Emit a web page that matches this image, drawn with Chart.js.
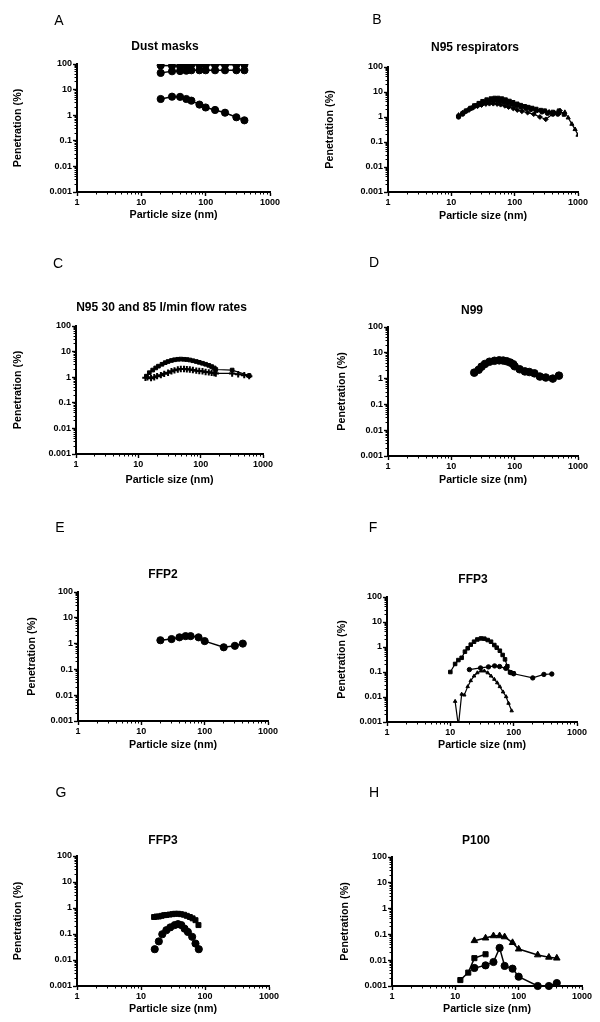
<!DOCTYPE html>
<html><head><meta charset="utf-8">
<script src="https://cdn.jsdelivr.net/npm/chart.js@4.4.1/dist/chart.umd.min.js"></script>
<style>
html,body{margin:0;padding:0;background:#fff;}
body{width:600px;height:1022px;position:relative;overflow:hidden;font-family:"Liberation Sans",Arial,sans-serif;}
canvas{position:absolute;}
.lbl{position:absolute;font-size:14px;color:#000;transform:translate(-50%,-50%);line-height:1;white-space:nowrap;}
.ttl{position:absolute;font-size:12px;font-weight:bold;color:#000;transform:translate(-50%,-50%);line-height:1;white-space:nowrap;}
</style></head><body>
<script>
// ---------- text ----------
const xTickLabels = ['1','10','100','1000'];
const yTickLabels = ['0.001','0.01','0.1','1','10','100'];
const panelLetters = ['A','B','C','D','E','F','G','H'];
const panelTitles = ['Dust masks','N95 respirators','N95 30 and 85 l/min flow rates','N99','FFP2','FFP3','FFP3','P100'];
const xAxisTitle = 'Particle size (nm)';
const yAxisTitle = 'Penetration (%)';

// ---------- data (particle size nm, penetration %) ----------
// A Dust masks
const aSize = [20,30,40,50,60,80,100,140,200,300,400];
const aMask1 = [88,85,83,90,95,92,92,93,93,93,96];
const aMask2 = [45,52,53,55,57,57,57,57,57,57,57];
const aMask3 = [4.3,5.3,5.2,4.3,3.7,2.6,2.0,1.6,1.25,0.83,0.63];
// B N95 respirators
const bSize1 = [13,15,17,20,23,27,31,36,42,48,55,63,72,83,95,110,125,145,165,190,220,260,300,400,500,600];
const bPen1 = [1.1,1.4,1.8,2.3,2.9,3.6,4.3,5.0,5.5,5.8,5.8,5.5,5.0,4.4,3.9,3.4,3.0,2.7,2.5,2.3,2.1,1.9,1.8,1.6,1.8,1.25];
const bSize2 = [13,15,18,21,25,30,35,40,46,53,61,70,80,92,105,120,140,160,185,215,250,300,350,420,500,620,700,800,900,1000];
const bPen2 = [1.2,1.5,1.9,2.3,2.9,3.6,4.2,4.7,5.0,5.0,4.8,4.4,4.0,3.6,3.2,2.9,2.6,2.4,2.2,2.0,1.8,1.7,1.6,1.5,1.4,1.55,0.93,0.52,0.32,0.19];
const bSize3 = [13,16,19,22,26,30,35,40,46,53,60,70,80,95,110,130,160,200,250,310,410,520];
const bPen3 = [1.1,1.5,1.9,2.3,2.7,3.0,3.3,3.4,3.4,3.3,3.1,2.8,2.5,2.2,1.9,1.7,1.5,1.3,1.0,0.81,1.4,1.78];
const bSize4 = [13,15,17,20,24,28,33,38,44,50,58,67,77,90,105,125,150,180,220,270,330,400,480];
const bPen4 = [1.0,1.3,1.7,2.2,2.8,3.4,3.9,4.3,4.5,4.5,4.3,4.0,3.6,3.2,2.8,2.5,2.2,2.0,1.8,1.6,1.4,1.3,1.3];
// C N95 at 85 and 30 l/min
const cSize85 = [13.5,15,17,19,21,24,27,30,34,38,43,48,54,60,67,75,85,95,107,120,135,150,165,175,320,600];
const cPen85 = [1.1,1.5,1.9,2.3,2.7,3.2,3.7,4.1,4.5,4.8,5.0,5.1,5.0,4.9,4.7,4.4,4.1,3.8,3.5,3.2,2.9,2.6,2.3,2.0,1.9,1.15];
const cSize30 = [13,14,16,18,20,23,26,30,34,38,43,48,54,60,67,75,85,95,107,120,135,150,165,175,320,400,500,600];
const cPen30 = [0.95,1.0,0.92,1.0,1.1,1.2,1.35,1.5,1.7,1.85,2.0,2.1,2.1,2.05,2.0,1.9,1.8,1.75,1.7,1.6,1.55,1.5,1.45,1.4,1.4,1.3,1.2,1.1];
// D N99
const dSize = [23,27,30,34,40,48,57,66,75,85,95,100,120,145,170,205,250,310,400,500];
const dPen = [1.7,2.2,2.9,3.7,4.5,4.9,5.1,5.0,4.7,4.2,3.6,3.0,2.3,1.9,1.8,1.6,1.2,1.1,1.0,1.3];
// E FFP2
const eSize = [20,30,40,50,60,80,100,200,300,400];
const ePen = [1.35,1.5,1.75,1.95,1.95,1.75,1.25,0.72,0.82,1.0];
// F FFP3
const fSize1 = [10,11.9,13.4,15.1,17,18.8,21,23.7,26.7,30.5,34.4,38.9,43.9,49.5,54,60.5,67,73,79.5,87.7,99];
const fPen1 = [0.1,0.21,0.3,0.37,0.65,0.89,1.24,1.63,2.0,2.2,2.15,1.9,1.63,1.2,0.94,0.71,0.48,0.32,0.17,0.097,0.089];
const fSize2 = [20,30,40,50,60,75,90,100,200,300,400];
const fPen2 = [0.125,0.145,0.16,0.175,0.165,0.14,0.095,0.085,0.058,0.08,0.083];
const fSize3 = [11.9,13.4,15.1,16.6,18.8,21,23.7,26.7,30.5,34.4,38.9,43.9,49.5,55,60.5,68,76,83,93];
const fPen3 = [0.0067,0.0007,0.013,0.012,0.026,0.045,0.069,0.093,0.11,0.11,0.093,0.069,0.051,0.037,0.026,0.016,0.0103,0.0056,0.0028];
// G FFP3
const gSize1 = [16,17.5,19,21,23,25,28,31,34,38,42,47,52,58,64,71,79];
const gPen1 = [0.45,0.47,0.47,0.5,0.53,0.54,0.56,0.58,0.6,0.6,0.58,0.55,0.5,0.45,0.4,0.34,0.22];
const gSize2 = [16.4,19,21.5,24.9,28.7,33.6,37.9,42.7,48,54,63,71,80];
const gPen2 = [0.026,0.052,0.098,0.14,0.18,0.22,0.24,0.22,0.16,0.12,0.078,0.043,0.026];
// H P100
const hSize1 = [20,30,40,50,60,80,100,200,300,400];
const hPen1 = [0.057,0.072,0.088,0.088,0.08,0.048,0.027,0.016,0.013,0.012];
const hSize2 = [12,16,20,30];
const hPen2 = [0.0017,0.0033,0.012,0.017];
const hSize3 = [20,30,40,50,60,80,100,200,300,400];
const hPen3 = [0.005,0.0063,0.0085,0.03,0.006,0.0047,0.0023,0.001,0.001,0.0013];

// ---------- axis ranges ----------
const xMin = 1, xMax = 1000, yMin = 0.001, yMax = 100;

// ---------- layout (page px) ----------
const layoutBoxes = [
 {cx:0,  cy:0,   w:300,h:250, L:77, R:270,T:64, B:192, yT:18.3, xT:215, tx:165, ty:45.5, lx:59, ly:20},
 {cx:300,cy:0,   w:300,h:250, L:388,R:578,T:67, B:192, yT:330,  xT:216, tx:475, ty:47,   lx:377,ly:19},
 {cx:0,  cy:250, w:300,h:250, L:76, R:263,T:326,B:454, yT:17.7, xT:480, tx:161.5,ty:307, lx:58, ly:263},
 {cx:300,cy:250, w:300,h:250, L:388,R:578,T:327,B:456, yT:341.7,xT:480.5,tx:472, ty:310,  lx:374,ly:262},
 {cx:0,  cy:500, w:300,h:260, L:78, R:268,T:592,B:721, yT:32.3, xT:745, tx:163, ty:573.5,lx:60, ly:527},
 {cx:300,cy:500, w:300,h:260, L:387,R:577,T:597,B:722, yT:341.7,xT:745, tx:473, ty:579,  lx:373,ly:527},
 {cx:0,  cy:760, w:300,h:262, L:77, R:269,T:856,B:986, yT:18.3, xT:1009,tx:163, ty:840,  lx:61, ly:792},
 {cx:300,cy:760, w:300,h:262, L:392,R:582,T:857,B:986, yT:345,  xT:1009,tx:476, ty:840,  lx:374,ly:792}
];

const pts = (xs, ys) => xs.map((v, i) => ({x: v, y: ys[i]}));

const panelSeries = [
 [ {x:aSize,y:aMask1,ps:'circle',r:3.6,lw:1.5}, {x:aSize,y:aMask2,ps:'circle',r:3.6,lw:1.5}, {x:aSize,y:aMask3,ps:'circle',r:3.6,lw:1.5} ],
 [ {x:bSize1,y:bPen1,ps:'rect',r:2.4,lw:1.2}, {x:bSize2,y:bPen2,ps:'triangle',r:2.4,lw:1.2}, {x:bSize3,y:bPen3,ps:'rectRot',r:2.4,lw:1.2}, {x:bSize4,y:bPen4,ps:'circle',r:2.2,lw:1.2} ],
 [ {x:cSize85,y:cPen85,ps:'rect',r:2.6,lw:1.2}, {x:cSize30,y:cPen30,ps:'cross',r:3.2,lw:1.2,pbw:2} ],
 [ {x:dSize,y:dPen,ps:'circle',r:3.8,lw:1.5} ],
 [ {x:eSize,y:ePen,ps:'circle',r:3.6,lw:1.5} ],
 [ {x:fSize1,y:fPen1,ps:'rect',r:2.5,lw:1.2}, {x:fSize2,y:fPen2,ps:'circle',r:2.2,lw:1.2}, {x:fSize3,y:fPen3,ps:'triangle',r:2.0,lw:1.2} ],
 [ {x:gSize1,y:gPen1,ps:'rect',r:3.5,lw:0,noLine:true}, {x:gSize2,y:gPen2,ps:'circle',r:3.6,lw:0,noLine:true} ],
 [ {x:hSize1,y:hPen1,ps:'triangle',r:3.8,lw:1.5,noClip:true}, {x:hSize2,y:hPen2,ps:'rect',r:3.6,lw:1.5,noClip:true}, {x:hSize3,y:hPen3,ps:'circle',r:3.6,lw:1.5,noClip:true} ]
];

function decades(lo, hi){ const t=[]; for(let v=lo; v<=hi*1.0001; v*=10) t.push({value: +v.toPrecision(6)}); return t; }
function minors(lo, hi){ const t=[]; for(let v=lo; v<hi*0.9999; v*=10){ for(let m=2;m<10;m++) t.push({value:+(m*v).toPrecision(6)}); } return t; }

Chart.defaults.font.family = '"Liberation Sans", Arial, sans-serif';
Chart.defaults.color = '#000';

const TFS = 10.7, TLH = TFS*1.2;

layoutBoxes.forEach((b, k) => {
  const cv = document.createElement('canvas');
  cv.width = b.w; cv.height = b.h;
  cv.style.left = b.cx + 'px'; cv.style.top = b.cy + 'px';
  cv.style.width = b.w + 'px'; cv.style.height = b.h + 'px';
  document.body.appendChild(cv);

  const pl = b.yT - b.cx - TLH/2;
  const wy = b.L - b.cx - pl;
  const pr = b.cx + b.w - b.R;
  const pt = b.T - b.cy;
  const pb = b.cy + b.h - b.xT - TLH/2;
  const hx = b.cy + b.h - pb - b.B;

  const datasets = panelSeries[k].map(s => ({
    data: pts(s.x, s.y),
    showLine: !s.noLine,
    borderColor: '#000', backgroundColor: '#000',
    borderWidth: s.lw, tension: 0,
    pointStyle: s.ps, pointRadius: s.r, pointHoverRadius: s.r,
    pointBorderWidth: s.pbw || 1, pointBackgroundColor: '#000', pointBorderColor: '#000',
    clip: s.noClip ? false : undefined
  }));

  const tickFont = {size: 9, weight: 'bold'};
  const titleFont = {size: TFS, weight: 'bold'};

  new Chart(cv, {
    type: 'line',
    data: {datasets},
    options: {
      responsive: false, animation: false, devicePixelRatio: 1,
      events: [],
      layout: {padding: {left: pl, right: pr, top: pt, bottom: pb}},
      plugins: {legend: {display: false}, tooltip: {enabled: false}, title: {display: false}},
      scales: {
        x: {
          type: 'logarithmic', min: xMin, max: xMax, position: 'bottom',
          afterBuildTicks: s => { s.ticks = decades(xMin, xMax); },
          afterFit: s => { s.height = hx; },
          grid: {drawOnChartArea: false, drawTicks: true, tickLength: 4, tickWidth: 1.4, tickColor: '#000'},
          border: {display: true, color: '#000', width: 2},
          ticks: {autoSkip: false, maxRotation: 0, padding: 1, font: tickFont, color: '#000', callback: (v, i) => xTickLabels[i]},
          title: {display: true, text: xAxisTitle, font: titleFont, color: '#000', padding: {top: 0, bottom: 0}}
        },
        xm: {
          type: 'logarithmic', min: xMin, max: xMax, position: 'bottom', weight: -1,
          afterBuildTicks: s => { s.ticks = minors(xMin, xMax); },
          afterFit: s => { s.height = 0; },
          grid: {drawOnChartArea: false, drawTicks: true, tickLength: 2.5, tickWidth: 1, tickColor: '#000'},
          border: {display: false},
          ticks: {display: false}
        },
        y: {
          type: 'logarithmic', min: yMin, max: yMax, position: 'left',
          afterBuildTicks: s => { s.ticks = decades(yMin, yMax); },
          afterFit: s => { s.width = wy; },
          grid: {drawOnChartArea: false, drawTicks: true, tickLength: 4, tickWidth: 1.4, tickColor: '#000'},
          border: {display: true, color: '#000', width: 2},
          ticks: {autoSkip: false, padding: 1, font: tickFont, color: '#000', callback: (v, i) => yTickLabels[i]},
          title: {display: true, text: yAxisTitle, font: titleFont, color: '#000', padding: {top: 0, bottom: 0}}
        },
        ym: {
          type: 'logarithmic', min: yMin, max: yMax, position: 'left', weight: -1,
          afterBuildTicks: s => { s.ticks = minors(yMin, yMax); },
          afterFit: s => { s.width = 0; },
          grid: {drawOnChartArea: false, drawTicks: true, tickLength: 2.5, tickWidth: 1, tickColor: '#000'},
          border: {display: false},
          ticks: {display: false}
        }
      }
    }
  });

  const l = document.createElement('div');
  l.className = 'lbl'; l.textContent = panelLetters[k];
  l.style.left = b.lx + 'px'; l.style.top = b.ly + 'px';
  document.body.appendChild(l);
  const t = document.createElement('div');
  t.className = 'ttl'; t.textContent = panelTitles[k];
  t.style.left = b.tx + 'px'; t.style.top = b.ty + 'px';
  document.body.appendChild(t);
});
</script>
</body></html>
